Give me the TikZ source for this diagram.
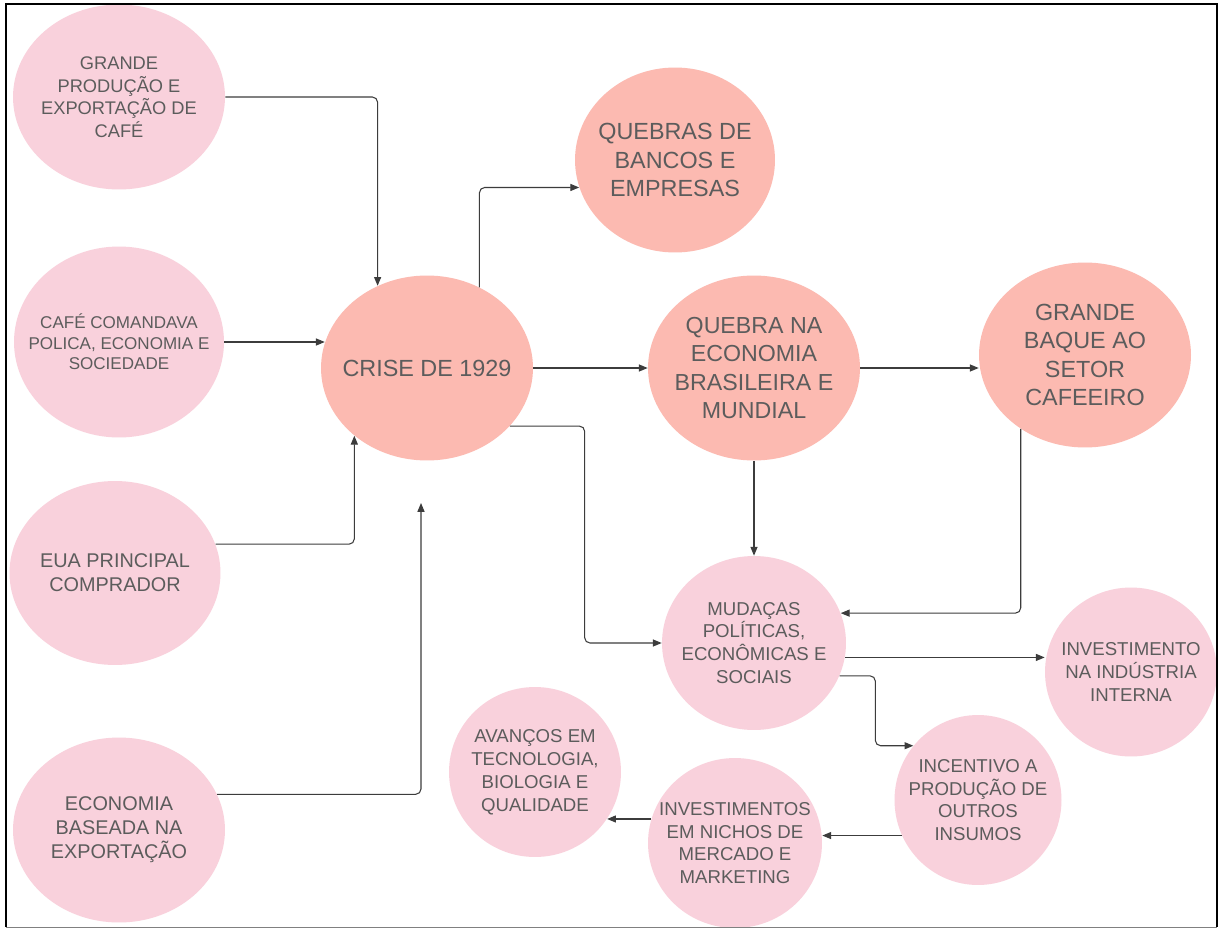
\documentclass[tikz,border=0pt]{standalone}
\usepackage{fontspec}
\setmainfont{Liberation Sans}
\usepackage{xcolor}
\usepackage{tikz}
\usetikzlibrary{arrows.meta,shapes.geometric,calc}

\definecolor{pinkfill}{RGB}{249,209,220}
\definecolor{salmonfill}{RGB}{252,186,177}
\definecolor{txtgray}{RGB}{92,92,92}
\definecolor{linegray}{RGB}{60,60,60}

\tikzset{
	bubble/.style={ellipse, fill=pinkfill, text=txtgray, align=center, inner xsep=-3cm, inner ysep=-3cm,
		minimum width=4.24cm, minimum height=3.7cm, font=\fontsize{10.6}{13}\selectfont},
	hotbubble/.style={bubble, fill=salmonfill, font=\fontsize{13.3}{16}\selectfont},
	midtext/.style={font=\fontsize{11.3}{13.6}\selectfont},
	link/.style={draw=linegray, line width=0.6pt, rounded corners=3pt, -{Triangle[length=5pt,width=4pt]}}
}

\begin{document}
\begin{tikzpicture}[x=0.02cm, y=-0.02cm]
		\useasboundingbox (0, 0) rectangle (1219, 929);
		\fill[white] (0, 0) rectangle (1219, 929);

		% causes on the left
		\node[bubble, font=\fontsize{10.4}{12.8}\selectfont] (prod) at (119, 97) {GRANDE\\PRODUÇÃO E\\EXPORTAÇÃO DE\\CAFÉ};
		\node[bubble, minimum width=4.2cm, minimum height=3.82cm, font=\fontsize{9.7}{11.7}\selectfont] (cafe) at (119, 342) {CAFÉ COMANDAVA\\POLICA, ECONOMIA E\\SOCIEDADE};
		\node[bubble, midtext, minimum width=4.22cm, minimum height=3.68cm] (eua) at (115, 573) {EUA PRINCIPAL\\COMPRADOR};
		\node[bubble, midtext] (expo) at (119, 830) {ECONOMIA\\BASEADA NA\\EXPORTAÇÃO};

		% the crisis and its effects
		\node[hotbubble] (crise) at (427, 368) {CRISE DE 1929};
		\node[hotbubble, minimum width=4cm] (quebras) at (675, 160) {QUEBRAS DE\\BANCOS E\\EMPRESAS};
		\node[hotbubble, font=\fontsize{13.2}{16}\selectfont] (quebra) at (754, 368) {QUEBRA NA\\ECONOMIA\\BRASILEIRA E\\MUNDIAL};
		\node[hotbubble] (baque) at (1085, 355) {GRANDE\\BAQUE AO\\SETOR\\CAFEEIRO};

		\node[bubble, minimum width=3.68cm, minimum height=3.48cm] (mud) at (754, 643) {MUDAÇAS\\POLÍTICAS,\\ECONÔMICAS E\\SOCIAIS};
		\node[bubble, minimum width=3.44cm, minimum height=3.38cm] (ind) at (1131, 672) {INVESTIMENTO\\NA INDÚSTRIA\\INTERNA};
		\node[bubble, minimum width=3.34cm, minimum height=3.4cm] (inc) at (978, 800) {INCENTIVO A\\PRODUÇÃO DE\\OUTROS\\INSUMOS};
		\node[bubble, minimum width=3.48cm, minimum height=3.4cm] (nich) at (735, 843) {INVESTIMENTOS\\EM NICHOS DE\\MERCADO E\\MARKETING};
		\node[bubble, minimum width=3.44cm, minimum height=3.4cm] (avan) at (535, 772) {AVANÇOS EM\\TECNOLOGIA,\\BIOLOGIA E\\QUALIDADE};

		\coordinate (exptip) at (421, 503);

		\draw[link] (prod.east) -| (crise.121);
		\draw[link] (cafe.east) -- (cafe.east -| crise.166);
		\draw[link] (eua.16) -| (crise.223);
		\draw[link] (expo.20) -| (exptip);

		\draw[link] (crise.57) |- (quebras.196);
		\draw[link] (crise.east) -- (quebra.west);
		\draw[link] (crise.325) -| ($(mud.west)+(-77, 0)$) -- (mud.west);
		\draw[link] (quebra.east) -- (quebra.east -| baque.west);
		\draw[link] (quebra.south) -- (mud.north);
		\draw[link] (baque.229) |- (mud.19);

		\draw[link] (mud.-9) -- (mud.-9 -| ind.west);
		\draw[link] (mud.-21) -| ($(inc.140)+(-38, 0)$) -- (inc.140);
		\draw[link] (inc.205) -- (inc.205 -| nich.east);
		\draw[link] (nich.164) -- (nich.164 -| avan.-33);

		% frame
		\draw[line width=1.2pt] (6, 927) -- (6, 4) -- (1217, 4) -- (1217, 927);
		\draw[line width=0.5pt, black!50] (6, 927) -- (1217, 927);
	\end{tikzpicture}
\end{document}
